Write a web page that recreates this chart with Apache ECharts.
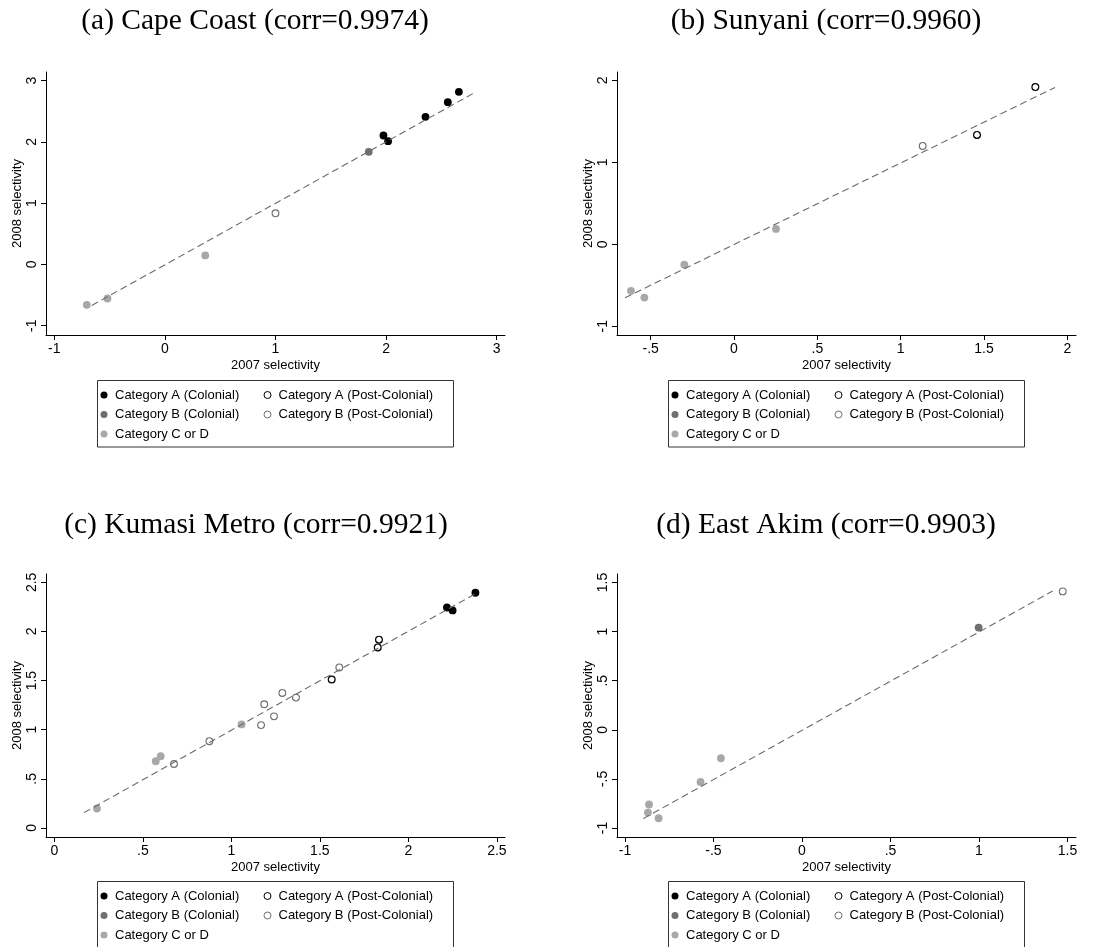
<!DOCTYPE html>
<html>
<head>
<meta charset="utf-8">
<title>Selectivity 2007 vs 2008</title>
<script src="https://cdn.jsdelivr.net/npm/echarts@6/dist/echarts.min.js"></script>
<style>
  body { margin: 0; background: #fff; }
  #chart { width: 1116px; height: 947px; }
</style>
</head>
<body>
<div id="chart"></div>
<script>
// legend labels, same in every panel
var catNames = ['Category A (Colonial)', 'Category A (Post-Colonial)',
                'Category B (Colonial)', 'Category B (Post-Colonial)', 'Category C or D'];

// (a) Cape Coast
var capeTitle = '(a) Cape Coast (corr=0.9974)';
var capeA = [[1.976, 2.104], [2.018, 2.011], [2.356, 2.409], [2.558, 2.648], [2.658, 2.817]];
var capeAPost = [];
var capeB = [[1.843, 1.837]];
var capeBPost = [[1.0, 0.834]];
var capeCD = [[-0.706, -0.659], [-0.519, -0.556], [0.365, 0.147]];
var capeFit = [[-0.661, -0.670], [2.809, 2.812]];
var capeXTicks = [-1, 0, 1, 2, 3];
var capeYTicks = [-1, 0, 1, 2, 3];
var capeXRange = [-1.075, 3.075];
var capeYRange = [-1.152, 3.140];

// (b) Sunyani
var sunyTitle = '(b) Sunyani (corr=0.9960)';
var sunyA = [];
var sunyAPost = [[1.458, 1.335], [1.808, 1.918]];
var sunyB = [];
var sunyBPost = [[1.132, 1.200]];
var sunyCD = [[-0.618, -0.567], [-0.538, -0.649], [-0.298, -0.249], [0.252, 0.188]];
var sunyFit = [[-0.654, -0.653], [1.926, 1.914]];
var sunyXTicks = [-0.5, 0, 0.5, 1, 1.5, 2];
var sunyYTicks = [-1, 0, 1, 2];
var sunyXRange = [-0.702, 2.052];
var sunyYRange = [-1.106, 2.102];

// (c) Kumasi Metro
var kumaTitle = '(c) Kumasi Metro (corr=0.9921)';
var kumaA = [[2.218, 2.244], [2.250, 2.214], [2.379, 2.394]];
var kumaAPost = [[1.567, 1.511], [1.827, 1.838], [1.834, 1.917]];
var kumaB = [];
var kumaBPost = [[0.676, 0.651], [0.876, 0.883], [1.168, 1.047], [1.186, 1.259], [1.241, 1.136],
                 [1.288, 1.374], [1.365, 1.327], [1.610, 1.634]];
var kumaCD = [[0.241, 0.198], [0.573, 0.679], [0.601, 0.730], [1.058, 1.054]];
var kumaFit = [[0.169, 0.157], [2.386, 2.391]];
var kumaXTicks = [0, 0.5, 1, 1.5, 2, 2.5];
var kumaYTicks = [0, 0.5, 1, 1.5, 2, 2.5];
var kumaXRange = [-0.047, 2.546];
var kumaYRange = [-0.092, 2.585];

// (d) East Akim
var akimTitle = '(d) East Akim (corr=0.9903)';
var akimA = [];
var akimAPost = [];
var akimB = [[0.998, 1.041]];
var akimBPost = [[1.473, 1.410]];
var akimCD = [[-0.864, -0.761], [-0.870, -0.843], [-0.810, -0.901], [-0.573, -0.532], [-0.458, -0.290]];
var akimFit = [[-0.896, -0.904], [1.416, 1.413]];
var akimXTicks = [-1, -0.5, 0, 0.5, 1, 1.5];
var akimYTicks = [-1, -0.5, 0, 0.5, 1, 1.5];
var akimXRange = [-1.045, 1.548];
var akimYRange = [-1.092, 1.587];

var panels = [
  {title: capeTitle, groups: [capeA, capeAPost, capeB, capeBPost, capeCD], fit: capeFit,
   xt: capeXTicks, yt: capeYTicks, xr: capeXRange, yr: capeYRange},
  {title: sunyTitle, groups: [sunyA, sunyAPost, sunyB, sunyBPost, sunyCD], fit: sunyFit,
   xt: sunyXTicks, yt: sunyYTicks, xr: sunyXRange, yr: sunyYRange},
  {title: kumaTitle, groups: [kumaA, kumaAPost, kumaB, kumaBPost, kumaCD], fit: kumaFit,
   xt: kumaXTicks, yt: kumaYTicks, xr: kumaXRange, yr: kumaYRange},
  {title: akimTitle, groups: [akimA, akimAPost, akimB, akimBPost, akimCD], fit: akimFit,
   xt: akimXTicks, yt: akimYTicks, xr: akimXRange, yr: akimYRange}
];

// layout of each panel (plot box, title centre, legend box)
var boxes = [
  {left: 46,  top: 72,  titleX: 255, titleY: 6,   legTop: 380.5},
  {left: 617, top: 72,  titleX: 826, titleY: 6,   legTop: 380.5},
  {left: 46,  top: 574, titleX: 256, titleY: 510, legTop: 881.5},
  {left: 617, top: 574, titleX: 826, titleY: 510, legTop: 881.5}
];
var plotW = 459, plotH = 263, legW = 356, legH = 66.5;

// marker styles per category
var styles = [
  {color: '#000000', borderColor: '#000000', borderWidth: 0, size: 7.8},
  {color: '#ffffff', borderColor: '#000000', borderWidth: 1.2, size: 6.8},
  {color: '#6f6f6f', borderColor: '#6f6f6f', borderWidth: 0, size: 7.8},
  {color: '#ffffff', borderColor: '#707070', borderWidth: 1.1, size: 6.8},
  {color: '#a8a8a8', borderColor: '#a8a8a8', borderWidth: 0, size: 7.8}
];

var sans = 'Liberation Sans, Arial, Helvetica, sans-serif';

function fmt(v) {
  return String(+v.toFixed(2)).replace(/^(-?)0\./, '$1.');
}

var option = {
  backgroundColor: '#fff',
  animation: false,
  title: [], grid: [], xAxis: [], yAxis: [], series: [], legend: [], graphic: []
};

panels.forEach(function (p, i) {
  var b = boxes[i];
  option.title.push({
    text: p.title, left: b.titleX, top: b.titleY, textAlign: 'center', padding: 0,
    textStyle: {fontFamily: 'Liberation Serif, DejaVu Serif, serif', fontWeight: 'normal',
                fontSize: 29.5, color: '#000'}
  });
  option.grid.push({left: b.left, top: b.top, width: plotW, height: plotH, containLabel: false});
  option.xAxis.push({
    gridIndex: i, type: 'value', min: p.xr[0], max: p.xr[1],
    name: '2007 selectivity', nameLocation: 'middle', nameGap: 24,
    nameTextStyle: {fontFamily: sans, fontSize: 13, color: '#000'},
    axisLine: {show: true, onZero: false, lineStyle: {color: '#000', width: 1}},
    axisTick: {show: true, length: 5, customValues: p.xt, lineStyle: {color: '#000', width: 1}},
    axisLabel: {customValues: p.xt, formatter: fmt, fontFamily: sans, fontSize: 14, color: '#000', margin: 7},
    splitLine: {show: false}
  });
  option.yAxis.push({
    gridIndex: i, type: 'value', min: p.yr[0], max: p.yr[1],
    name: '2008 selectivity', nameLocation: 'middle', nameGap: 22,
    nameTextStyle: {fontFamily: sans, fontSize: 13, color: '#000'},
    axisLine: {show: true, onZero: false, lineStyle: {color: '#000', width: 1}},
    axisTick: {show: true, length: 5, customValues: p.yt, lineStyle: {color: '#000', width: 1}},
    axisLabel: {customValues: p.yt, formatter: fmt, rotate: 90, fontFamily: sans, fontSize: 14,
                color: '#000', margin: 7},
    splitLine: {show: false}
  });
  p.groups.forEach(function (pts, k) {
    var s = styles[k];
    option.series.push({
      type: 'scatter', name: catNames[k], xAxisIndex: i, yAxisIndex: i,
      data: pts, symbol: 'circle', symbolSize: s.size, z: 3,
      itemStyle: {color: s.color, borderColor: s.borderColor, borderWidth: s.borderWidth, opacity: 1},
      emphasis: {disabled: true}
    });
  });
  option.series.push({
    type: 'line', name: 'fit', xAxisIndex: i, yAxisIndex: i, data: p.fit,
    showSymbol: false, symbol: 'none', z: 4,
    lineStyle: {color: '#6a6a6a', width: 1.1, type: [7, 4]},
    emphasis: {disabled: true}
  });

  // legend box and its two columns
  var legLeft = b.left + plotW / 2 - legW / 2;
  option.graphic.push({
    type: 'rect', z: 1,
    shape: {x: legLeft, y: b.legTop, width: legW, height: legH},
    style: {fill: '#fff', stroke: '#333', lineWidth: 1}
  });
  var legText = {fontFamily: sans, fontSize: 13, color: '#000', lineHeight: 19.5};
  var legItem = function (k) {
    var s = styles[k];
    return {name: catNames[k], icon: 'circle',
            itemStyle: {color: s.color, borderColor: s.borderColor, borderWidth: s.borderWidth ? 1 : 0}};
  };
  option.legend.push({
    orient: 'vertical', left: legLeft + 3, top: b.legTop + 4.75, padding: 0,
    itemWidth: 12, itemHeight: 7, itemGap: 0, selectedMode: false, z: 5,
    textStyle: legText, data: [legItem(0), legItem(2), legItem(4)]
  });
  option.legend.push({
    orient: 'vertical', left: legLeft + 166, top: b.legTop + 4.75, padding: 0,
    itemWidth: 12, itemHeight: 7, itemGap: 0, selectedMode: false, z: 5,
    textStyle: legText, data: [legItem(1), legItem(3)]
  });
});

var chart = echarts.init(document.getElementById('chart'));
chart.setOption(option);
</script>
</body>
</html>
